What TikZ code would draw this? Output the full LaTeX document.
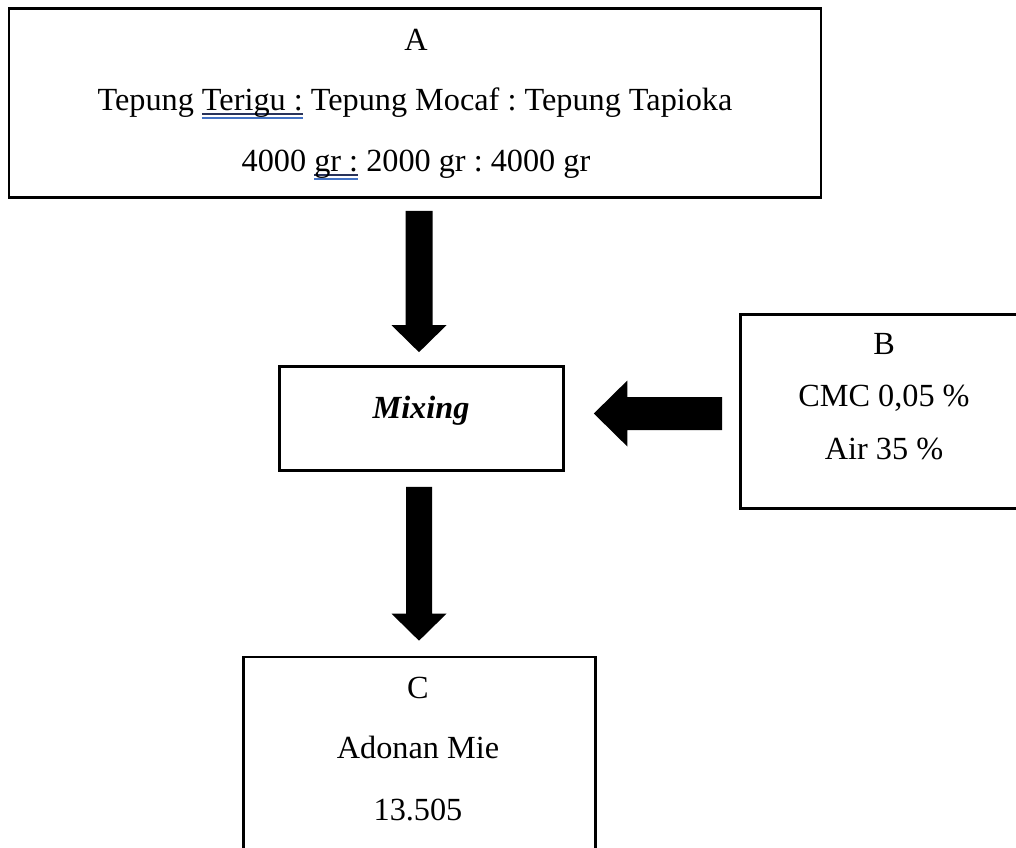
\documentclass[tikz,border=0pt]{standalone}
\usepackage{fontspec}
\setmainfont{Liberation Serif}
\usetikzlibrary{calc}
\frenchspacing
\definecolor{wordblue}{RGB}{68,114,196}
\definecolor{worddark}{RGB}{40,50,90}
\newsavebox\pmbox
\newcommand\proofmark[1]{\sbox\pmbox{#1}%
  \rlap{\color{worddark}\rule[-0.14em]{\wd\pmbox}{0.055em}}%
  \rlap{\color{wordblue}\rule[-0.29em]{\wd\pmbox}{0.06em}}%
  \usebox\pmbox}
\begin{document}
\begin{tikzpicture}[x=0.75pt,y=-0.75pt,
  box/.style={draw=black, line width=2pt, inner sep=0pt},
  txt/.style={inner sep=0pt, anchor=base, font=\fontsize{24.2}{28}\selectfont},
  blk/.style={fill=black}]
\useasboundingbox (0,0) rectangle (1016,847);
\clip (0,0) rectangle (1016,847);
% boxes
\node[box, minimum width=609pt, minimum height=141.75pt] (A) at (415,103) {};
\node[box, minimum width=213pt, minimum height=78pt] (mix) at (421.5,418.5) {};
\node[box, minimum width=215.25pt, minimum height=145.5pt] (B) at (884,411.5) {};
\node[box, minimum width=264pt, minimum height=180pt] (C) at (419.5,777) {};
% texts
\node[txt] (a1) at (416,50) {A};
\node[txt] (a2) at (415,110) {Tepung \proofmark{Terigu :} Tepung Mocaf : Tepung Tapioka};
\node[txt] (a3) at (416,171) {4000 \proofmark{gr :} 2000 gr : 4000 gr};
\node[txt] (m1) at (421,418) {\textbf{\textit{Mixing}}};
\node[txt] (b1) at (884,354) {B};
\node[txt] (b2) at (884,406) {CMC 0,05 \%};
\node[txt] (b3) at (884,459) {Air 35 \%};
\node[txt] (c1) at (418,698) {C};
\node[txt] (c2) at (418,758) {Adonan Mie};
\node[txt] (c3) at (418,820) {13.505};
% arrow anchor points
\coordinate (s1) at ($(A.south)+(4,12)$);
\coordinate (t1) at ($(mix.north)+(-2.5,-13)$);
\coordinate (s2) at ($(mix.south)+(-2.5,15)$);
\coordinate (t2) at ($(C.north)+(-0.5,-15)$);
\coordinate (s3) at ($(B.west)+(-17,2)$);
\coordinate (t3) at ($(mix.east)+(29,-5)$);
% block arrows
\fill[blk] (t1) -- ($(t1)+(27.5,-27)$) -- ($(t1)+(13.5,-27)$) -- ($(s1)+(13.5,0)$)
  -- ($(s1)+(-13.5,0)$) -- ($(t1)+(-13.5,-27)$) -- ($(t1)+(-27.5,-27)$) -- cycle;
\fill[blk] (t2) -- ($(t2)+(27.5,-27)$) -- ($(t2)+(13,-27)$) -- ($(s2)+(13,0)$)
  -- ($(s2)+(-13,0)$) -- ($(t2)+(-13,-27)$) -- ($(t2)+(-27.5,-27)$) -- cycle;
\fill[blk] (t3) -- ($(t3)+(33.5,-33)$) -- ($(t3)+(33.5,-16.5)$) -- ($(s3)+(0,-16.5)$)
  -- ($(s3)+(0,16.5)$) -- ($(t3)+(33.5,16.5)$) -- ($(t3)+(33.5,33)$) -- cycle;
\end{tikzpicture}
\end{document}
